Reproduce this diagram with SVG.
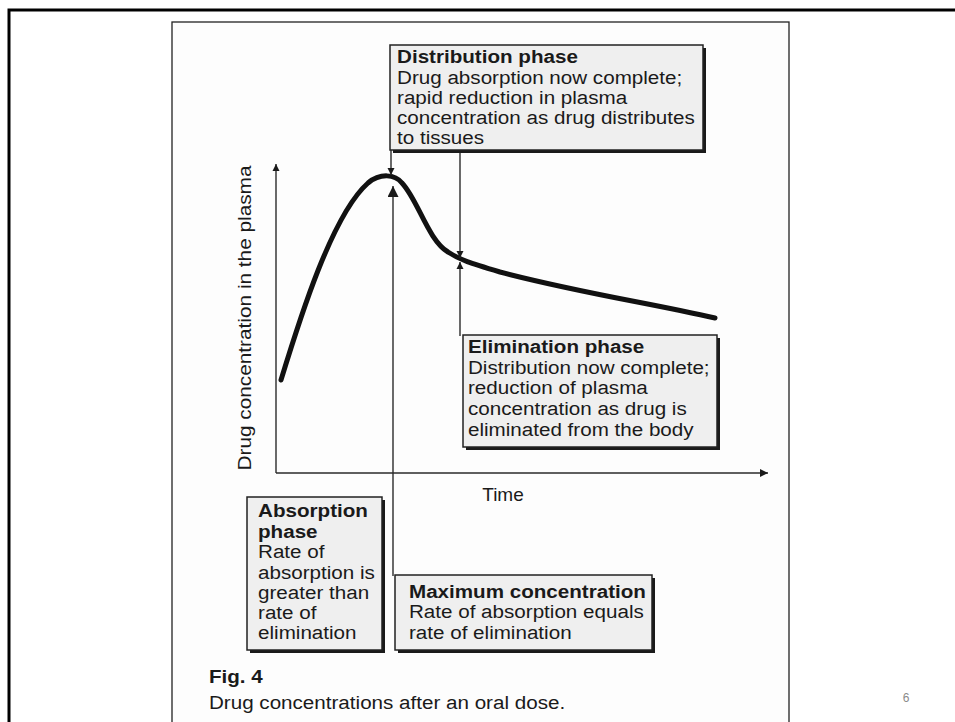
<svg xmlns="http://www.w3.org/2000/svg" width="955" height="722" viewBox="0 0 955 722">
<defs>
<style>
.t{font-family:"Liberation Sans",Arial,sans-serif;font-size:19px;fill:#1a1a1a}
.b{font-weight:bold}
.box{fill:#efefef;stroke:#222;stroke-width:1.5}
.sh{fill:#1a1a1a}
.ln{stroke:#2a2a2a;stroke-width:1.4;fill:none}
</style>
<marker id="ah" viewBox="0 0 10 10" refX="10" refY="5" markerWidth="7" markerHeight="9" markerUnits="userSpaceOnUse" orient="auto"><path d="M0,0L10,5L0,10z" fill="#1a1a1a"/></marker>
<marker id="ahs" viewBox="0 0 10 10" refX="10" refY="5" markerWidth="14" markerHeight="8" markerUnits="userSpaceOnUse" orient="auto"><path d="M0,0L10,5L0,10z" fill="#1a1a1a"/></marker>
<marker id="ahb" viewBox="0 0 10 10" refX="10" refY="5" markerWidth="16" markerHeight="11" markerUnits="userSpaceOnUse" orient="auto"><path d="M0,0L10,5L0,10z" fill="#1a1a1a"/></marker>
</defs>
<rect width="955" height="722" fill="#fff"/>
<path d="M9,730V10H960" fill="none" stroke="#000" stroke-width="3"/>
<rect x="172" y="22" width="617" height="720" fill="#fdfdfd" stroke="#222" stroke-width="1.3"/>

<g id="axes">
<line class="ln" x1="276" y1="473" x2="276" y2="164" marker-end="url(#ah)"/>
<line class="ln" x1="276" y1="473" x2="768" y2="473" marker-end="url(#ahs)"/>
<text class="t" transform="translate(251,318) rotate(-90)" text-anchor="middle" textLength="305" lengthAdjust="spacingAndGlyphs">Drug concentration in the plasma</text>
<text class="t" x="503" y="501" text-anchor="middle">Time</text>
</g>

<g id="curve">
<path d="M281,380 C300,318 332,215 368,183 C380,173 395,174 402,183 C418,200 428,240 448,252 C460,260 470,263 500,272 C580,293 650,303 715,318" fill="none" stroke="#111" stroke-width="5" stroke-linecap="round"/>
</g>

<g id="connectors">
<line class="ln" x1="391" y1="150" x2="391" y2="175" marker-end="url(#ah)"/>
<line class="ln" x1="460" y1="150" x2="460" y2="258" marker-end="url(#ah)"/>
<line class="ln" x1="460" y1="336" x2="460" y2="262" marker-end="url(#ah)"/>
<line class="ln" x1="393" y1="576" x2="393" y2="186" marker-end="url(#ahb)"/>
</g>

<g id="distribution">
<rect class="sh" x="393" y="48" width="313" height="105"/>
<rect class="box" x="390" y="45" width="313" height="105"/>
<g transform="matrix(1.085,0,0,1,-33.7,0)">
<text class="t b" x="397" y="63">Distribution phase</text>
<text class="t" x="397" y="84">Drug absorption now complete;</text>
<text class="t" x="397" y="104">rapid reduction in plasma</text>
<text class="t" x="397" y="124">concentration as drug distributes</text>
<text class="t" x="397" y="144">to tissues</text>
</g>
</g>

<g id="elimination">
<rect class="sh" x="466" y="338" width="254" height="112"/>
<rect class="box" x="463" y="335" width="254" height="112"/>
<g transform="matrix(1.085,0,0,1,-39.8,0)">
<text class="t b" x="468" y="353">Elimination phase</text>
<text class="t" x="468" y="374">Distribution now complete;</text>
<text class="t" x="468" y="394">reduction of plasma</text>
<text class="t" x="468" y="415">concentration as drug is</text>
<text class="t" x="468" y="436">eliminated from the body</text>
</g>
</g>

<g id="absorption">
<rect class="sh" x="250" y="500" width="135" height="153"/>
<rect class="box" x="247" y="497" width="135" height="153"/>
<g transform="matrix(1.085,0,0,1,-21.9,0)">
<text class="t b" x="258" y="517">Absorption</text>
<text class="t b" x="258" y="538">phase</text>
<text class="t" x="258" y="558">Rate of</text>
<text class="t" x="258" y="579">absorption is</text>
<text class="t" x="258" y="599">greater than</text>
<text class="t" x="258" y="619">rate of</text>
<text class="t" x="258" y="639">elimination</text>
</g>
</g>

<g id="maximum">
<rect class="sh" x="398" y="578" width="257" height="75"/>
<rect class="box" x="395" y="575" width="257" height="75"/>
<g transform="matrix(1.085,0,0,1,-34.8,0)">
<text class="t b" x="409" y="598">Maximum concentration</text>
<text class="t" x="409" y="618">Rate of absorption equals</text>
<text class="t" x="409" y="639">rate of elimination</text>
</g>
</g>

<g id="caption" transform="matrix(1.085,0,0,1,-17.8,0)">
<text class="t" x="209" y="683" style="font-weight:bold">Fig. 4</text>
<text class="t" x="209" y="709">Drug concentrations after an oral dose.</text>
</g>
<text x="906" y="702" text-anchor="middle" style="font-family:'Liberation Sans',Arial,sans-serif;font-size:12px;fill:#8a8a8a">6</text>
</svg>
